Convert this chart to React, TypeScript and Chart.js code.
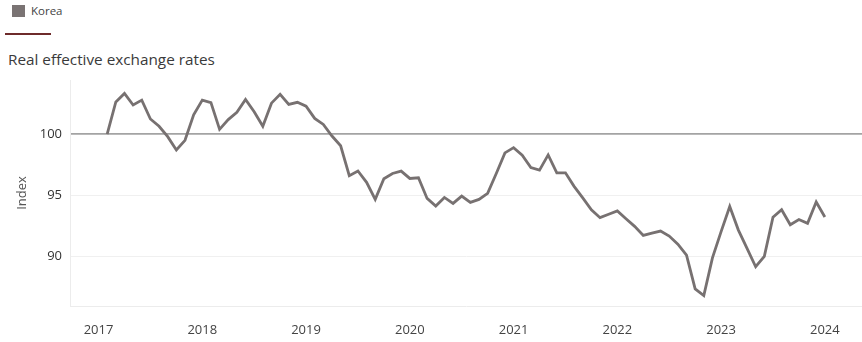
import React, { useEffect, useRef } from "react";
import { Chart, registerables } from "chart.js";

Chart.register(...registerables);

const seriesName = "Korea";
const chartTitle = "Real effective exchange rates";
const yAxisTitle = "Index";
const firstYear = 2017;
const yearTicks = [2017, 2018, 2019, 2020, 2021, 2022, 2023, 2024];
const yTicks = [90, 95, 100];
const referenceValue = 100;

// Monthly values, Jan 2017 .. Dec 2023 (end-of-month)
const values2017 = [100.0, 102.65, 103.35, 102.4, 102.8, 101.25, 100.65, 99.8, 98.7, 99.5, 101.6, 102.8];
const values2018 = [102.6, 100.4, 101.2, 101.8, 102.85, 101.85, 100.65, 102.55, 103.28, 102.45, 102.62, 102.3];
const values2019 = [101.3, 100.8, 99.85, 99.05, 96.6, 96.98, 96.05, 94.65, 96.35, 96.78, 96.97, 96.37];
const values2020 = [96.42, 94.73, 94.1, 94.81, 94.32, 94.92, 94.4, 94.65, 95.14, 96.78, 98.47, 98.9];
const values2021 = [98.28, 97.27, 97.05, 98.3, 96.83, 96.83, 95.72, 94.78, 93.8, 93.15, 93.43, 93.7];
const values2022 = [93.06, 92.44, 91.69, 91.88, 92.05, 91.64, 90.98, 90.08, 87.3, 86.75, 89.85, 92.0];
const values2023 = [94.07, 92.13, 90.63, 89.12, 89.97, 93.18, 93.8, 92.57, 93.0, 92.68, 94.44, 93.21];

const allValues = [
  ...values2017, ...values2018, ...values2019, ...values2020,
  ...values2021, ...values2022, ...values2023,
];

const FONT = "'Open Sans', 'DejaVu Sans', sans-serif";
const LINE_COLOR = "#777171";

export default function App() {
  const canvasRef = useRef<HTMLCanvasElement | null>(null);

  useEffect(() => {
    if (!canvasRef.current) return;
    const points = allValues.map((v, i) => ({ x: firstYear + (i + 1) / 12, y: v }));
    const chart = new Chart(canvasRef.current, {
      type: "line",
      data: {
        datasets: [
          {
            label: seriesName,
            data: points,
            borderColor: LINE_COLOR,
            backgroundColor: LINE_COLOR,
            borderWidth: 2.8,
            pointRadius: 0,
            tension: 0,
          },
        ],
      },
      options: {
        animation: false,
        responsive: false,
        maintainAspectRatio: false,
        layout: { padding: { top: 80, left: 0, right: 0, bottom: 0 } },
        plugins: {
          legend: { display: false },
          title: { display: false },
          tooltip: { enabled: false },
        },
        scales: {
          x: {
            type: "linear",
            min: 2016.725,
            max: 2024.358,
            afterBuildTicks: (scale: any) => {
              scale.ticks = yearTicks.map((v) => ({ value: v }));
            },
            afterFit: (scale: any) => {
              scale.height = 36;
            },
            grid: { display: false },
            border: { display: true, color: "#ececec", width: 1 },
            ticks: {
              autoSkip: false,
              maxRotation: 0,
              padding: 8,
              color: "#444",
              font: { family: FONT, size: 13 },
              callback: (v: any) => String(v),
            },
          },
          y: {
            type: "linear",
            min: 85.9,
            max: 104.45,
            afterBuildTicks: (scale: any) => {
              scale.ticks = yTicks.map((v) => ({ value: v }));
            },
            afterFit: (scale: any) => {
              scale.width = 70;
            },
            grid: {
              drawTicks: false,
              color: (ctx: any) => (ctx.tick && ctx.tick.value === referenceValue ? "#a3a3a3" : "#f0f0f0"),
              lineWidth: (ctx: any) => (ctx.tick && ctx.tick.value === referenceValue ? 1.8 : 1),
            },
            border: { display: true, color: "#ececec", width: 1 },
            ticks: {
              padding: 8,
              color: "#333",
              font: { family: FONT, size: 13 },
              callback: (v: any) => String(v),
            },
            title: {
              display: true,
              text: yAxisTitle,
              color: "#555",
              font: { family: FONT, size: 13 },
              padding: { top: 14, bottom: 0 },
            },
          },
        },
      },
    });
    return () => chart.destroy();
  }, []);

  return (
    <div style={{ position: "absolute", left: 0, top: 0, width: 862, height: 342, background: "#fff", fontFamily: FONT }}>
      <div style={{ position: "absolute", left: 12, top: 5, width: 13, height: 12, background: "#7a7373" }} />
      <div style={{ position: "absolute", left: 31, top: 3, fontSize: 11.5, lineHeight: "16px", color: "#444" }}>{seriesName}</div>
      <div style={{ position: "absolute", left: 5, top: 33, width: 46, height: 2, background: "#6e2b2b" }} />
      <div style={{ position: "absolute", left: 8, top: 48, fontSize: 15.3, lineHeight: "22px", color: "#3a3a3a", whiteSpace: "nowrap" }}>{chartTitle}</div>
      <canvas ref={canvasRef} width={862} height={342} style={{ position: "absolute", left: 0, top: 0, width: 862, height: 342 }} />
    </div>
  );
}
